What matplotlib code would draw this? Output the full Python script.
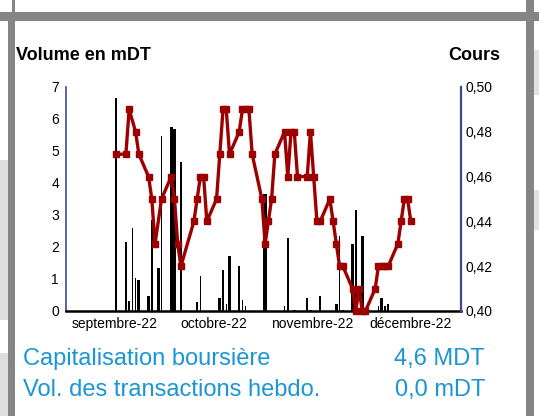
import numpy as np
import pandas as pd
import matplotlib
matplotlib.use("Agg")
import matplotlib.pyplot as plt
from matplotlib.patches import Rectangle

plt.rcParams['font.family'] = ['Liberation Sans', 'DejaVu Sans']

# days counted from 1 sept 2022
start = pd.Timestamp("2022-09-01")

bar_days = [15, 18, 19, 20, 21, 22, 25, 26, 28, 29, 32, 33, 35, 40, 41, 47, 48, 49, 50,
            53, 54, 55, 61, 67, 68, 70, 74, 75, 78, 83, 84, 85, 88, 89, 91, 96, 97, 98, 99]
bar_vol = [6.65, 2.15, 0.30, 2.58, 1.03, 0.97, 0.47, 2.84, 1.33, 5.47, 5.75, 5.70, 4.67,
           0.29, 1.09, 0.40, 1.28, 0.22, 1.72, 1.40, 0.34, 0.16, 3.65, 0.16, 2.27, 0.04,
           0.40, 0.04, 0.47, 0.21, 2.34, 0.04, 2.09, 3.16, 2.34, 0.15, 0.40, 0.15, 0.22]
# bar widths in days (style)
bar_w = [0.45, 0.45, 0.45, 0.45, 0.45, 1.0, 1.0, 0.45, 1.0, 0.45, 1.0, 1.0, 0.45,
         0.45, 0.45, 1.0, 0.45, 0.45, 1.0, 0.45, 0.45, 0.45, 1.0, 0.45, 0.45, 1.0,
         0.45, 1.0, 0.45, 1.0, 0.45, 0.45, 1.0, 0.45, 1.0, 0.45, 1.0, 0.45, 0.45]

price_days = [15, 18, 19, 21, 22, 25, 26, 27, 29, 32, 33, 34, 35, 39, 40, 41, 42, 43,
              46, 47, 48, 49, 50, 53, 54, 55, 56, 57, 60, 61, 62, 63, 64, 67, 68, 69, 70, 71,
              74, 75, 76, 77, 78, 81, 82, 83, 84, 85, 88, 89, 90, 91, 92, 95, 96, 97, 98, 99,
              102, 103, 104, 105, 106]
price = [0.47, 0.47, 0.49, 0.48, 0.47, 0.46, 0.45, 0.43, 0.45, 0.46, 0.45, 0.43, 0.42,
         0.44, 0.45, 0.46, 0.46, 0.44, 0.45, 0.47, 0.49, 0.49, 0.47, 0.48, 0.49, 0.49, 0.49,
         0.47, 0.45, 0.43, 0.44, 0.45, 0.47, 0.48, 0.46, 0.48, 0.48, 0.46, 0.46, 0.48, 0.46,
         0.44, 0.44, 0.45, 0.44, 0.43, 0.42, 0.42, 0.41, 0.40, 0.41, 0.40, 0.40, 0.41, 0.42,
         0.42, 0.42, 0.42, 0.43, 0.44, 0.45, 0.45, 0.44]

month_labels = ["septembre-22", "octobre-22", "novembre-22", "décembre-22"]
info_labels = ["Capitalisation boursière", "Vol. des transactions hebdo."]
info_values = ["4,6 MDT", "0,0 mDT"]


def to_dates(days):
    return start + pd.to_timedelta(np.array(days) + 0.5, unit="D")


W, H = 539, 416
fig = plt.figure(figsize=(W / 100, H / 100), dpi=100)
fig.patch.set_facecolor("white")


def px_rect(x0, y0, x1, y1, color):
    fig.add_artist(Rectangle((x0 / W, 1 - y1 / H), (x1 - x0) / W, (y1 - y0) / H,
                             transform=fig.transFigure, color=color, lw=0, zorder=-5))


# page frame around the panel
gray = "#858585"
px_rect(0, 160, 8, 320, "#dedede")
px_rect(0, 353, 8, 416, "#dedede")
px_rect(534, 50, 539, 95, "#e2e2e2")
px_rect(534, 190, 539, 230, "#e2e2e2")
px_rect(0, 12, 539, 21, gray)
px_rect(8, 12, 15, 416, gray)
px_rect(526, 0, 534, 416, gray)
px_rect(12, 0, 15, 12, gray)

ax = fig.add_axes([66 / W, 1 - 311 / H, (461 - 66) / W, (311 - 87) / H])
ax.set_facecolor("none")
ax.bar(to_dates(bar_days), bar_vol, width=bar_w, color="black", linewidth=0,
       antialiased=False)
ax.set_ylim(0, 7)
ax.set_yticks(range(8))
ax.set_xlim(start, start + pd.Timedelta(days=122))

months = pd.date_range(start, periods=5, freq="MS")
centers = [months[i] + (months[i + 1] - months[i]) / 2 for i in range(4)]
ax.set_xticks(centers)
ax.set_xticklabels(month_labels)
ax.tick_params(axis="both", length=0, labelsize=10)
ax.tick_params(axis="y", pad=5)
ax.tick_params(axis="x", pad=4)

for s in ["top", "right"]:
    ax.spines[s].set_visible(False)
ax.spines["left"].set_color("#3b4a8c")
ax.spines["left"].set_linewidth(1.2)
ax.spines["bottom"].set_color("black")
ax.spines["bottom"].set_linewidth(1.8)

ax2 = ax.twinx()
ax2.plot(to_dates(price_days), price, color="#9c0000", lw=2.4, marker="s",
         markersize=4.2, clip_on=False)
ax2.set_ylim(0.40, 0.50)
ticks = np.arange(0.40, 0.501, 0.02)
ax2.set_yticks(ticks)
ax2.set_yticklabels([f"{t:.2f}".replace(".", ",") for t in ticks])
ax2.tick_params(axis="y", length=0, labelsize=10, pad=3)
for s in ["top", "left", "bottom"]:
    ax2.spines[s].set_visible(False)
ax2.spines["right"].set_color("#3b4a8c")
ax2.spines["right"].set_linewidth(1.6)

fig.text(15.5 / W, 1 - 55 / H, "Volume en mDT", fontsize=13, fontweight="bold",
         ha="left", va="center")
fig.text(500 / W, 1 - 55 / H, "Cours", fontsize=13, fontweight="bold",
         ha="right", va="center")

blue = "#1996d3"
for i, (lab, val) in enumerate(zip(info_labels, info_values)):
    y = 1 - (359 + 31 * i) / H
    fig.text(23 / W, y, lab, fontsize=17, color=blue, ha="left", va="center")
    fig.text(485 / W, y, val, fontsize=17, color=blue, ha="right", va="center")

fig.savefig("out.png", dpi=100)
